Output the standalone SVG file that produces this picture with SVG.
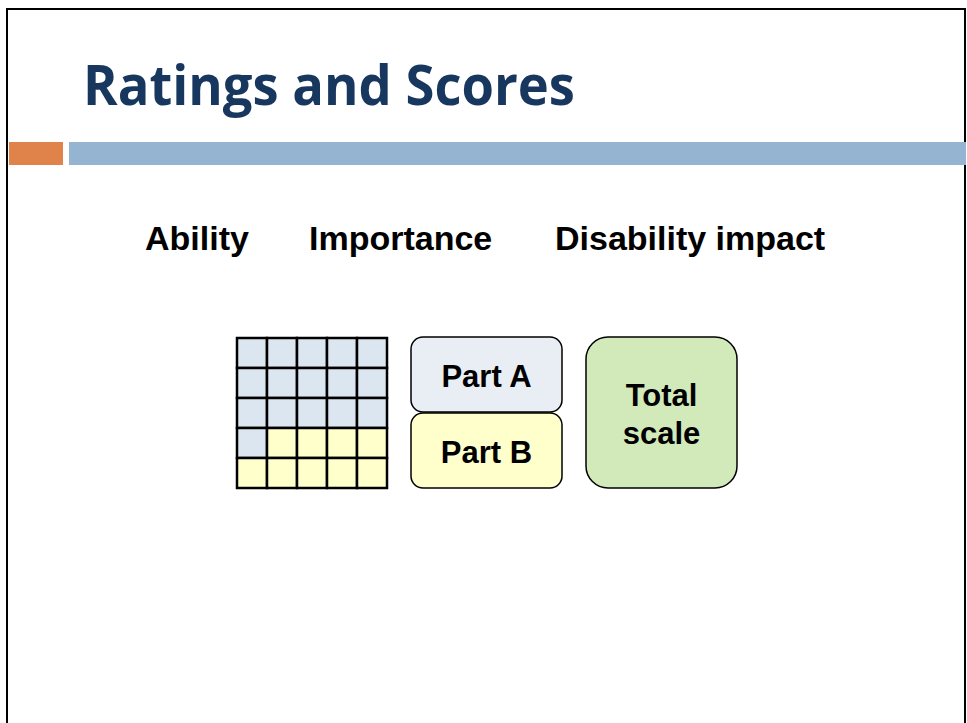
<svg xmlns="http://www.w3.org/2000/svg" width="967" height="723" viewBox="0 0 967 723">
<style>
.lbl{font-family:"Liberation Sans",Arial,sans-serif;font-weight:bold;fill:#000}
.cell{stroke:#000;stroke-width:2.5}
.b{fill:#dce6f1}
.y{fill:#ffffcc}
.box{stroke:#000;stroke-width:1.5}
</style>
<rect x="0" y="0" width="967" height="723" fill="#fff"/>
<rect x="7" y="9" width="958" height="730" fill="none" stroke="#000" stroke-width="2"/>
<g id="title">
<text x="83" y="105" font-family="'Open Sans','Noto Sans',sans-serif" font-weight="bold" font-size="55" fill="#17375e" textLength="492" lengthAdjust="spacingAndGlyphs">Ratings and Scores</text>
</g>
<g id="bars">
<rect x="9" y="142" width="54" height="23" fill="#e0834a"/>
<rect x="69" y="142" width="897" height="23" fill="#95b4d2"/>
</g>
<g id="headings">
<text class="lbl" x="145" y="250" font-size="34">Ability</text>
<text class="lbl" x="309" y="250" font-size="34">Importance</text>
<text class="lbl" x="555" y="250" font-size="34">Disability impact</text>
</g>
<g id="grid">
<rect class="cell b" x="237" y="338" width="30" height="30"/>
<rect class="cell b" x="267" y="338" width="30" height="30"/>
<rect class="cell b" x="297" y="338" width="30" height="30"/>
<rect class="cell b" x="327" y="338" width="30" height="30"/>
<rect class="cell b" x="357" y="338" width="30" height="30"/>
<rect class="cell b" x="237" y="368" width="30" height="30"/>
<rect class="cell b" x="267" y="368" width="30" height="30"/>
<rect class="cell b" x="297" y="368" width="30" height="30"/>
<rect class="cell b" x="327" y="368" width="30" height="30"/>
<rect class="cell b" x="357" y="368" width="30" height="30"/>
<rect class="cell b" x="237" y="398" width="30" height="30"/>
<rect class="cell b" x="267" y="398" width="30" height="30"/>
<rect class="cell b" x="297" y="398" width="30" height="30"/>
<rect class="cell b" x="327" y="398" width="30" height="30"/>
<rect class="cell b" x="357" y="398" width="30" height="30"/>
<rect class="cell b" x="237" y="428" width="30" height="30"/>
<rect class="cell y" x="267" y="428" width="30" height="30"/>
<rect class="cell y" x="297" y="428" width="30" height="30"/>
<rect class="cell y" x="327" y="428" width="30" height="30"/>
<rect class="cell y" x="357" y="428" width="30" height="30"/>
<rect class="cell y" x="237" y="458" width="30" height="30"/>
<rect class="cell y" x="267" y="458" width="30" height="30"/>
<rect class="cell y" x="297" y="458" width="30" height="30"/>
<rect class="cell y" x="327" y="458" width="30" height="30"/>
<rect class="cell y" x="357" y="458" width="30" height="30"/>
</g>
<g id="partA">
<rect class="box" x="411" y="337" width="151" height="75" rx="12" fill="#e9eef5"/>
<text class="lbl" x="486.5" y="387" font-size="31" text-anchor="middle">Part A</text>
</g>
<g id="partB">
<rect class="box" x="411" y="413" width="151" height="75" rx="12" fill="#ffffcc"/>
<text class="lbl" x="486.5" y="463" font-size="31" text-anchor="middle">Part B</text>
</g>
<g id="total">
<rect class="box" x="586" y="337" width="151" height="151" rx="22" fill="#d2eab9"/>
<text class="lbl" x="661.5" y="406" font-size="31" text-anchor="middle">Total</text>
<text class="lbl" x="661.5" y="444" font-size="31" text-anchor="middle">scale</text>
</g>
<g id="connectors"/>
</svg>
